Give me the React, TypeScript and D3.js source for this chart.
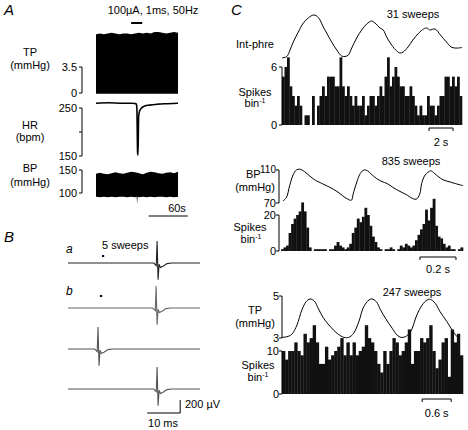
import React from 'react';
import * as d3 from 'd3';

const FONT = '"Liberation Sans", Arial, Helvetica, sans-serif';

// ---------- Panel A data ----------
const aTpTimes = [0, 6, 12, 18, 24, 30, 36, 42, 48, 54, 60, 66, 72, 78, 84, 90, 96, 102, 108, 114, 120, 126];
const aTpPeak = [7.9, 8.0, 7.9, 8.0, 8.1, 8.0, 7.9, 8.0, 8.0, 7.9, 8.0, 8.1, 8.0, 8.1, 8.0, 8.2, 8.2, 8.1, 8.0, 8.1, 8.2, 8.1];
const aTpTrough = -0.1;
const aHrTimes = [0, 20, 40, 55, 60, 62, 62.8, 63.3, 63.8, 64.3, 64.8, 65.5, 67, 70, 75, 82, 95, 110, 126];
const aHr = [260, 261, 260, 260, 259.5, 258, 250, 210, 160, 152, 175, 232, 244, 250, 254, 256, 258, 259, 260];
const aBpTimes = [0, 6, 12, 18, 24, 30, 36, 42, 48, 54, 60, 62.5, 63.2, 64, 66, 72, 78, 84, 90, 96, 102, 108, 114, 120, 126];
const aBpSys = [142, 144, 142, 141, 143, 145, 143, 142, 144, 146, 145, 144, 144, 144, 143, 141, 144, 146, 145, 143, 142, 144, 145, 143, 146];
const aBpDia = [92, 91, 92, 91, 92, 91, 92, 92, 91, 92, 91, 92, 76, 92, 91, 92, 91, 92, 91, 92, 92, 91, 92, 91, 92];
const aStim = [54, 71];
const aHrTicks = [150, 200, 250];
const aHrTickLabels = ['150', '', '250'];
const aBpTicks = [100, 150];

// ---------- Panel B data ----------
const bTraceNames = ['a', 'b', '', ''];
const bSpikeTimes = [27, 26.7, 9.1, 27]; // ms
const bStimTimes = [10.6, 10.0]; // ms
const bSpikeT = [-1, -0.25, 0, 0.3, 0.6, 1.0, 1.8, 3.0, 4.5];
const bSpikeV = [0, -40, 340, -260, -20, -70, -50, -10, 0]; // µV

// ---------- Panel C data ----------
const cTopT = [0, 0.4, 0.67, 0.94, 1.36, 1.78, 2.19, 2.61, 2.89, 3.17, 3.44, 3.72, 4.14, 4.56, 4.97, 5.25, 5.53, 5.81, 6.22, 6.64, 7.06, 7.47, 7.75, 8.17, 8.44, 8.72, 9.14, 9.56, 9.83, 10.1, 10.5, 10.9, 11.4, 11.8, 12.1, 12.3, 12.75, 13.2, 13.7, 14.1, 14.4, 14.7, 15.0];
const cTopPhre = [0, 1.5, 8, 16, 26, 35, 40, 43, 42, 38, 31, 25, 16, 8, 2, 1.5, 3, 10, 20, 28, 34, 37, 35, 30, 28, 21, 13, 7, 5, 6, 11, 18, 25, 29, 30, 28, 29, 23, 16, 11, 10, 10, 10.5];
const cTopSpikes = [
  5, 6, 7, 4, 3, 2, 3, 2, 0, 1,
  1, 0, 3, 0, 2, 3, 4, 3, 5, 5,
  5, 4, 4, 7, 4, 3, 4, 3, 2, 3,
  2, 2, 3, 1, 2, 3, 3, 2, 3, 4,
  3, 5, 7, 4, 5, 6, 5, 4, 4, 3,
  3, 4, 3, 2, 1, 2, 1, 1, 3, 2,
  2, 1, 2, 3, 3, 5, 5, 4, 5, 4,
  5, 3,
];
const cMidT = [0, 0.019, 0.037, 0.056, 0.074, 0.093, 0.12, 0.15, 0.18, 0.2, 0.22, 0.26, 0.3, 0.33, 0.36, 0.38, 0.39, 0.41, 0.43, 0.45, 0.47, 0.49, 0.52, 0.55, 0.58, 0.61, 0.65, 0.69, 0.71, 0.74, 0.76, 0.77, 0.79, 0.82, 0.83, 0.86, 0.89, 0.93, 0.96, 1.0];
const cMidBp = [72.5, 76.6, 91, 104, 110, 111, 108, 102.5, 97.5, 95.4, 93.3, 89, 84, 79, 74.6, 73.4, 81, 95.4, 106, 110, 109, 105, 99.6, 96, 93.4, 89, 84, 79.6, 76.6, 74.6, 81, 93.4, 104, 109, 108, 102.5, 98, 95.4, 93.4, 91];
const cMidSpikes = [
  1, 2, 3, 10, 15, 18, 20, 22, 27, 22,
  13, 2, 0, 1, 1, 1, 1, 1, 0, 1,
  1, 3, 5, 3, 2, 1, 2, 4, 10, 13,
  18, 16, 19, 24, 20, 14, 8, 5, 2, 1,
  0, 1, 1, 2, 1, 0, 1, 3, 2, 4,
  3, 2, 3, 6, 9, 12, 15, 23, 17, 24,
  29, 14, 8, 7, 4, 2, 3, 1, 1, 0,
  1, 2,
];
const cBotT = [0, 0.1, 0.2, 0.31, 0.41, 0.5, 0.58, 0.67, 0.75, 0.86, 1.0, 1.14, 1.28, 1.38, 1.48, 1.59, 1.69, 1.8, 1.86, 1.95, 2.04, 2.14, 2.28, 2.38, 2.46, 2.55, 2.66, 2.79, 2.9, 3.0, 3.07, 3.17, 3.27, 3.41, 3.52, 3.62];
const cBotTp = [3.03, 3.06, 3.17, 3.62, 4.33, 4.73, 4.86, 4.76, 4.41, 3.94, 3.54, 3.22, 3.03, 3.03, 3.22, 3.78, 4.49, 4.81, 4.86, 4.73, 4.33, 3.94, 3.46, 3.14, 3.03, 3.06, 3.3, 4.1, 4.57, 4.81, 4.84, 4.65, 4.25, 3.78, 3.38, 3.06];
const cBotSpikes = [
  10, 8, 10, 10, 12, 10, 9, 14, 12, 13,
  16, 12, 7, 7, 11, 8, 9, 10, 11, 13,
  9, 12, 9, 12, 9, 10, 11, 16, 13, 12,
  10, 7, 5, 10, 7, 10, 13, 12, 9, 10,
  12, 15, 7, 10, 10, 13, 12, 13, 16, 10,
  6, 8, 12, 13, 4, 15, 12, 14, 9,
];

const T = (props: any) => (
  <text fontFamily={FONT} fontSize={11} fill="#000" {...props} />
);

const BinLabel = ({ x, y }: { x: number; y: number }) => (
  <T x={x} y={y} textAnchor="middle">
    bin<tspan fontSize={7} dy={-4}>-1</tspan>
  </T>
);

function Hist({ values, x0, x1, y }: { values: number[]; x0: number; x1: number; y: d3.ScaleLinear<number, number> }) {
  const xb = d3.scaleBand<number>().domain(d3.range(values.length)).range([x0, x1]).paddingInner(0);
  return (
    <g>
      {values.map((v, i) => (
        <rect key={i} x={xb(i)!} y={y(v)} width={xb.bandwidth() + 0.3} height={y(0) - y(v)} fill="#111" />
      ))}
    </g>
  );
}

const ScaleBar = ({ x0, x1, y, label, ty }: { x0: number; x1: number; y: number; label: string; ty: number }) => (
  <g>
    <path d={`M${x0},${y + 3}V${y}H${x1}V${y + 3}`} fill="none" stroke="#000" strokeWidth={1} />
    <T x={(x0 + x1) / 2} y={ty} textAnchor="middle">{label}</T>
  </g>
);

export default function App() {
  // ----- Panel A scales -----
  const ax = d3.scaleLinear().domain([0, 126]).range([96, 178]);
  const aTpY = d3.scaleLinear().domain([0, 3.5]).range([93, 67]);
  const aHrY = d3.scaleLinear().domain([150, 250]).range([156, 108]);
  const aBpY = d3.scaleLinear().domain([100, 150]).range([193, 170]);

  const tpArea = d3.area<number>()
    .x((_, i) => ax(aTpTimes[i]))
    .y0(() => aTpY(aTpTrough))
    .y1((d) => aTpY(d))(aTpPeak);
  const hrLine = d3.line<number>()
    .x((_, i) => ax(aHrTimes[i]))
    .y((d) => aHrY(d))
    .curve(d3.curveMonotoneX)(aHr);
  const bpArea = d3.area<number>()
    .x((_, i) => ax(aBpTimes[i]))
    .y0((_, i) => aBpY(aBpDia[i]))
    .y1((d) => aBpY(d))(aBpSys);

  const axisLeft = (x: number, y0: number, y1: number, ticks: { y: number; label: string }[], key: string, labelX: number, fs = 11) => (
    <g key={key}>
      <line x1={x} x2={x} y1={y0} y2={y1} stroke="#000" strokeWidth={1} />
      {ticks.map((t, i) => (
        <g key={i}>
          <line x1={x - 3} x2={x} y1={t.y} y2={t.y} stroke="#000" strokeWidth={1} />
          {t.label && (
            <T x={labelX} y={t.y + 4} textAnchor="end" fontSize={fs}>{t.label}</T>
          )}
        </g>
      ))}
    </g>
  );

  // ----- Panel B scales -----
  const bx = d3.scaleLinear().domain([0, 40]).range([68, 200]);
  const bBaselines = [263, 308, 349, 389];
  const bColors = ['#222', '#666', '#555', '#555'];
  const bTraces = bSpikeTimes.map((st, k) => {
    const yv = d3.scaleLinear().domain([0, 340]).range([bBaselines[k], bBaselines[k] - 22]);
    const pts: [number, number][] = [[0, 0]];
    bSpikeT.forEach((dt, i) => pts.push([st + dt, bSpikeV[i]]));
    pts.push([40, 0]);
    return d3.line<[number, number]>().x((d) => bx(d[0])).y((d) => yv(d[1]))(pts);
  });

  // ----- Panel C scales -----
  const cTopX = d3.scaleLinear().domain([0, 15]).range([282, 462]);
  const cTopY = d3.scaleLinear().domain([0, 45]).range([58, 13]);
  const cTopH = d3.scaleLinear().domain([0, 6]).range([125, 67]);
  const cMidX = d3.scaleLinear().domain([0, 1]).range([283, 463]);
  const cMidY = d3.scaleLinear().domain([70, 110]).range([203, 170]);
  const cMidH = d3.scaleLinear().domain([0, 20]).range([251, 215]);
  const cBotX = d3.scaleLinear().domain([0, 3.62]).range([282, 457]);
  const cBotY = d3.scaleLinear().domain([3, 5]).range([338, 296]);
  const cBotH = d3.scaleLinear().domain([0, 10]).range([394, 351]);

  const phreLine = d3.line<number>().x((_, i) => cTopX(cTopT[i])).y((d) => cTopY(d)).curve(d3.curveCatmullRom)(cTopPhre);
  const bpLine = d3.line<number>().x((_, i) => cMidX(cMidT[i])).y((d) => cMidY(d)).curve(d3.curveCatmullRom)(cMidBp);
  const tpLine = d3.line<number>().x((_, i) => cBotX(cBotT[i])).y((d) => cBotY(d)).curve(d3.curveCatmullRom)(cBotTp);

  return (
    <svg width={468} height={430} style={{ position: 'absolute', left: 0, top: 0, background: '#fff' }}>
      <rect width={468} height={430} fill="#fff" />
      {/* ================= Panel A ================= */}
      <T x={4} y={15} fontSize={15} fontStyle="italic">A</T>
      <T x={153} y={14} textAnchor="middle">100µA, 1ms, 50Hz</T>
      <line x1={ax(aStim[0])} x2={ax(aStim[1])} y1={23} y2={23} stroke="#000" strokeWidth={2} />

      <T x={30} y={56} textAnchor="middle">TP</T>
      <T x={30} y={69} textAnchor="middle">(mmHg)</T>
      <path d={tpArea!} fill="#000" />
      {axisLeft(82, aTpY(3.5), aTpY(0), [{ y: aTpY(0), label: '0' }, { y: aTpY(3.5), label: '3.5' }], 'tp', 77)}

      <T x={30} y={129} textAnchor="middle">HR</T>
      <T x={30} y={141} textAnchor="middle">(bpm)</T>
      <path d={hrLine!} fill="none" stroke="#000" strokeWidth={1.6} />
      {axisLeft(82, aHrY(250), aHrY(150), aHrTicks.map((v, i) => ({ y: aHrY(v), label: aHrTickLabels[i] })), 'hr', 77)}

      <T x={30} y={172} textAnchor="middle">BP</T>
      <T x={30} y={186} textAnchor="middle">(mmHg)</T>
      <path d={bpArea!} fill="#000" />
      {axisLeft(82, aBpY(150), aBpY(100), aBpTicks.map((v) => ({ y: aBpY(v), label: String(v) })), 'bp', 77)}

      <T x={177} y={212} textAnchor="middle">60s</T>
      <line x1={ax(81)} x2={ax(141)} y1={216} y2={216} stroke="#000" strokeWidth={1.2} />

      {/* ================= Panel B ================= */}
      <T x={4} y={242} fontSize={15} fontStyle="italic">B</T>
      <T x={66} y={253} fontSize={12} fontStyle="italic">{bTraceNames[0]}</T>
      <T x={66} y={295} fontSize={12} fontStyle="italic">{bTraceNames[1]}</T>
      <T x={102} y={249}>5 sweeps</T>
      <rect x={bx(bStimTimes[0]) - 1} y={255} width={2.2} height={2} fill="#000" />
      <rect x={bx(bStimTimes[1]) - 1} y={295} width={2.2} height={2} fill="#000" />
      {bTraces.map((d, k) => (
        <path key={k} d={d!} fill="none" stroke={bColors[k]} strokeWidth={1.1} />
      ))}
      <path d={`M${bx(24)},413H${bx(34)}V${413 - 13}`} fill="none" stroke="#000" strokeWidth={1} />
      <T x={185} y={408}>200 µV</T>
      <T x={163} y={427} textAnchor="middle">10 ms</T>

      {/* ================= Panel C top ================= */}
      <T x={231} y={15} fontSize={15} fontStyle="italic">C</T>
      <T x={413} y={18} textAnchor="middle">31 sweeps</T>
      <T x={255} y={48} textAnchor="middle">Int-phre</T>
      <path d={phreLine!} fill="none" stroke="#000" strokeWidth={1} />
      <Hist values={cTopSpikes} x0={282} x1={462} y={cTopH} />
      {axisLeft(282, cTopH(6), cTopH(0), [{ y: cTopH(6), label: '6' }, { y: cTopH(0), label: '0' }], 'ct', 277)}
      <T x={255} y={96} textAnchor="middle">Spikes</T>
      <BinLabel x={255} y={107} />
      <ScaleBar x0={cTopX(12.25)} x1={cTopX(14.25)} y={128} label="2 s" ty={146} />

      {/* ================= Panel C middle ================= */}
      <T x={411} y={165} textAnchor="middle">835 sweeps</T>
      <T x={246} y={178}>BP</T>
      <T x={255} y={191} textAnchor="middle">(mmHg)</T>
      <path d={bpLine!} fill="none" stroke="#000" strokeWidth={1} />
      {axisLeft(279, cMidY(110), cMidY(70), [{ y: cMidY(110), label: '' }, { y: cMidY(70), label: '70' }], 'cmb', 276)}
      <T x={276} y={173} textAnchor="end" fontSize={10}>110</T>
      <Hist values={cMidSpikes} x0={281} x1={463} y={cMidH} />
      {axisLeft(279, cMidH(20), cMidH(0), [{ y: cMidH(20), label: '20' }, { y: cMidH(0), label: '0' }], 'cmh', 276)}
      <T x={250} y={231} textAnchor="middle">Spikes</T>
      <BinLabel x={251} y={243} />
      <ScaleBar x0={cMidX(0.761)} x1={cMidX(0.961)} y={257} label="0.2 s" ty={273} />

      {/* ================= Panel C bottom ================= */}
      <T x={412} y={296} textAnchor="middle">247 sweeps</T>
      <T x={255} y={314} textAnchor="middle">TP</T>
      <T x={255} y={327} textAnchor="middle">(mmHg)</T>
      <path d={tpLine!} fill="none" stroke="#000" strokeWidth={1} />
      {axisLeft(282, cBotY(5), cBotY(3), [{ y: cBotY(5), label: '5' }, { y: cBotY(3), label: '3' }], 'cbt', 279)}
      <Hist values={cBotSpikes} x0={282} x1={463} y={cBotH} />
      {axisLeft(282, cBotH(10), cBotH(0), [{ y: cBotH(10), label: '10' }, { y: cBotH(0), label: '0' }], 'cbh', 279)}
      <T x={258} y={369} textAnchor="middle">Spikes</T>
      <BinLabel x={258} y={381} />
      <ScaleBar x0={cBotX(2.9)} x1={cBotX(3.5)} y={399} label="0.6 s" ty={417} />
    </svg>
  );
}
